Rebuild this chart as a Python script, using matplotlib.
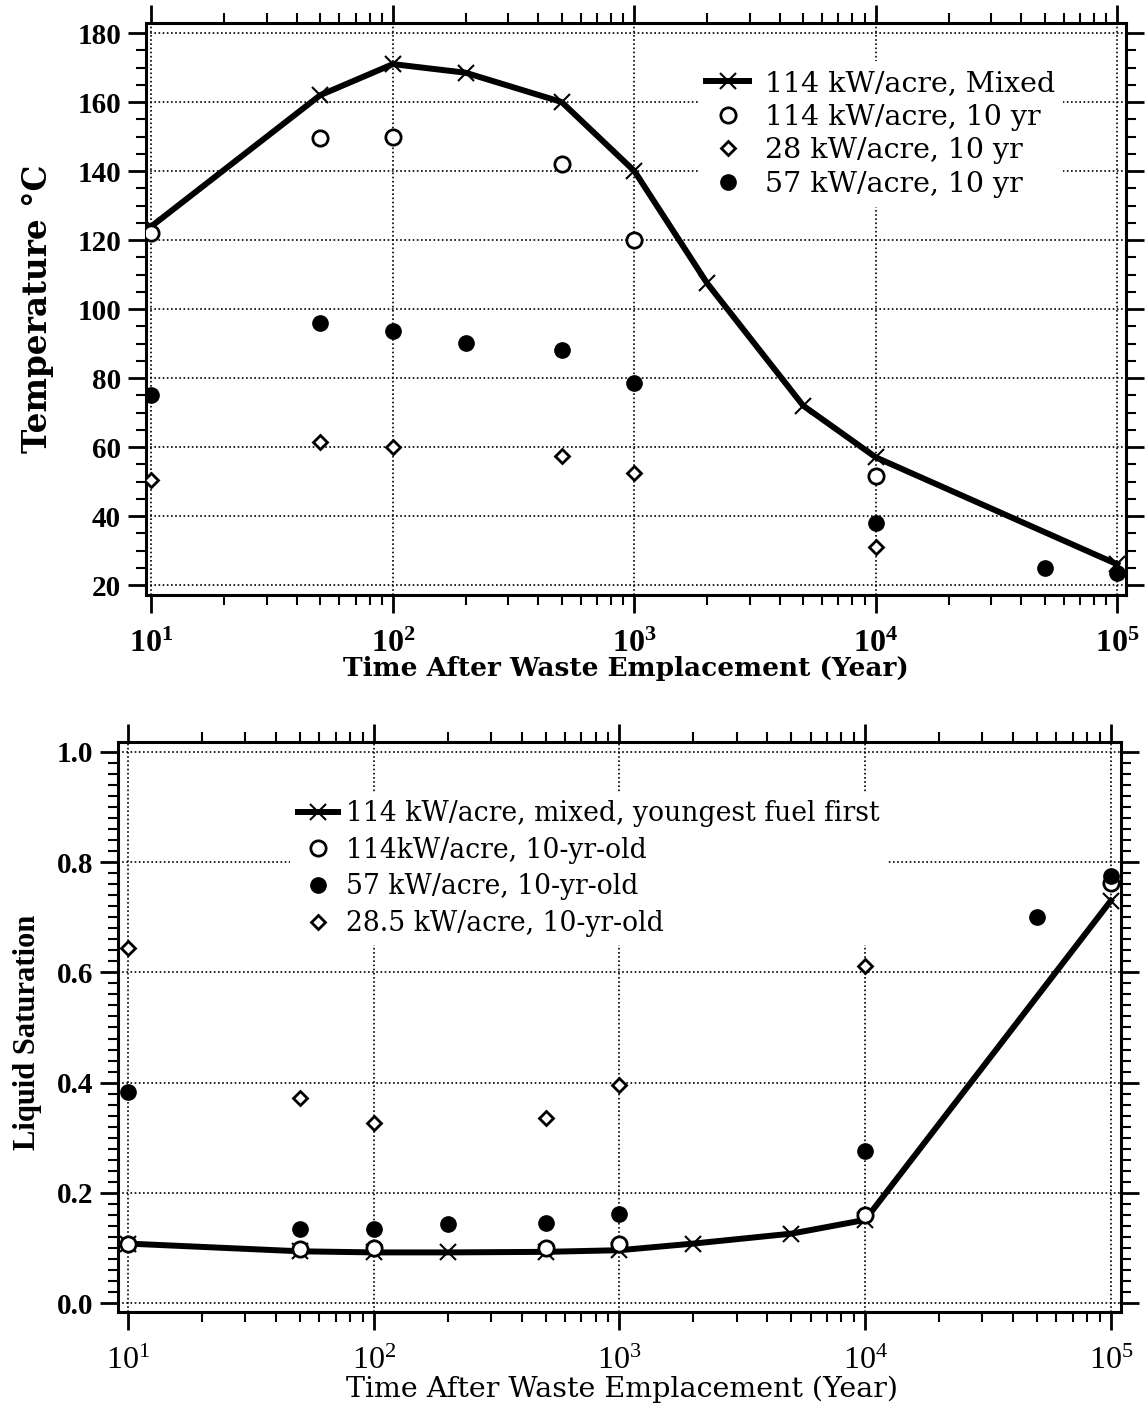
import matplotlib
matplotlib.use('Agg')
import matplotlib.pyplot as plt
from matplotlib.ticker import LogLocator, MultipleLocator, NullFormatter

plt.rcParams['font.family'] = 'Liberation Serif'
plt.rcParams['mathtext.fontset'] = 'custom'
plt.rcParams['mathtext.rm'] = 'Liberation Serif'
plt.rcParams['mathtext.bf'] = 'Liberation Serif:bold'

# ---- top panel: temperature ----
t_mix = [10, 50, 100, 200, 500, 1000, 2000, 5000, 1e4, 1e5]
temp_mix = [124, 162, 171, 168.5, 160, 140, 107.5, 72, 57, 26]
t_10yr = [10, 50, 100, 500, 1000, 1e4]
temp_114 = [122, 149.5, 150, 142, 120, 51.5]
temp_28 = [50.5, 61.5, 60, 57.5, 52.5, 31]
t_57 = [10, 50, 100, 200, 500, 1000, 1e4, 5e4, 1e5]
temp_57 = [75, 96, 93.5, 90.3, 88, 78.5, 38, 25, 23.5]
top_labels = ['114 kW/acre, Mixed', '114 kW/acre, 10 yr',
              '28 kW/acre, 10 yr', '57 kW/acre, 10 yr']
temp_ticks = [20, 40, 60, 80, 100, 120, 140, 160, 180]

# ---- bottom panel: liquid saturation ----
s_mix_t = [10, 50, 100, 200, 500, 1000, 2000, 5000, 1e4, 1e5]
sat_mix = [0.108, 0.094, 0.092, 0.092, 0.093, 0.096, 0.108, 0.126, 0.151, 0.73]
s_114_t = [10, 50, 100, 500, 1000, 1e4, 1e5]
sat_114 = [0.108, 0.099, 0.1, 0.1, 0.107, 0.16, 0.763]
s_57_t = [10, 50, 100, 200, 500, 1000, 1e4, 5e4, 1e5]
sat_57 = [0.383, 0.135, 0.135, 0.144, 0.145, 0.162, 0.276, 0.70, 0.775]
s_28_t = [10, 50, 100, 500, 1000, 1e4]
sat_28 = [0.645, 0.373, 0.327, 0.336, 0.395, 0.611]
bottom_labels = ['114 kW/acre, mixed, youngest fuel first', '114kW/acre, 10-yr-old',
                 '57 kW/acre, 10-yr-old', '28.5 kW/acre, 10-yr-old']
sat_ticks = [0.0, 0.2, 0.4, 0.6, 0.8, 1.0]

decades = [10, 100, 1e3, 1e4, 1e5]
xlabel = 'Time After Waste Emplacement (Year)'

fig = plt.figure(figsize=(11.46, 14.06), dpi=100)
ax1 = fig.add_axes([0.1274, 0.5768, 0.8551, 0.4068])
ax2 = fig.add_axes([0.103, 0.0669, 0.8752, 0.4054])


def style_axes(ax, xbold):
    ax.set_xscale('log')
    ax.set_xticks(decades)
    if xbold:
        ax.set_xticklabels([r'$\mathbf{10^{%d}}$' % i for i in range(1, 6)])
    else:
        ax.set_xticklabels([r'$\mathrm{10^{%d}}$' % i for i in range(1, 6)])
    ax.xaxis.set_minor_locator(LogLocator(base=10, subs=range(2, 10)))
    ax.xaxis.set_minor_formatter(NullFormatter())
    ax.tick_params(which='major', direction='out', length=13, width=2,
                   top=True, right=True, labelsize=21)
    ax.tick_params(which='minor', direction='out', length=7, width=1.5,
                   top=True, right=True)
    ax.tick_params(axis='x', which='major', pad=12, labelsize=23)
    ax.tick_params(axis='y', which='major', pad=5)
    for lab in ax.get_yticklabels():
        lab.set_fontweight('bold')
    for s in ax.spines.values():
        s.set_linewidth(2.2)
    ax.grid(True, which='major', color='black', linestyle=(0, (1, 1.5)), lw=1.2)


# top
ax1.plot(t_mix, temp_mix, '-', color='black', lw=4.3, marker='x', ms=12, mew=1.5,
         label=top_labels[0], zorder=3)
ax1.plot(t_10yr, temp_114, 'o', ms=11, mfc='white', mec='black', mew=2,
         label=top_labels[1], zorder=4)
ax1.plot(t_10yr, temp_28, 'D', ms=7, mfc='white', mec='black', mew=2,
         label=top_labels[2], zorder=4)
ax1.plot(t_57, temp_57, 'o', ms=11, color='black', label=top_labels[3], zorder=4)
ax1.set_xlim(9.49, 1.086e5)
ax1.set_ylim(17.1, 182.9)
ax1.set_yticks(temp_ticks)
ax1.yaxis.set_minor_locator(MultipleLocator(5))
style_axes(ax1, True)
ax1.set_xlabel(xlabel, fontsize=19, fontweight='bold', family='DejaVu Serif')
ax1.xaxis.set_label_coords(0.49, -0.107)
ax1.set_ylabel('Temperature °C', fontsize=23.5, fontweight='bold', family='DejaVu Serif')
ax1.yaxis.set_label_coords(-0.094, 0.5)
leg1 = ax1.legend(loc='upper left', bbox_to_anchor=(0.563, 0.933),
                  prop={'family': 'DejaVu Serif', 'size': 20.5},
                  frameon=True, facecolor='white', edgecolor='none', framealpha=1,
                  handlelength=1.5, handletextpad=0.55, labelspacing=0.235,
                  borderpad=0.3, borderaxespad=0)

# bottom
ax2.plot(s_mix_t, sat_mix, '-', color='black', lw=4.3, marker='x', ms=12, mew=1.5,
         label=bottom_labels[0], zorder=3)
ax2.plot(s_114_t, sat_114, 'o', ms=11, mfc='white', mec='black', mew=2,
         label=bottom_labels[1], zorder=4)
ax2.plot(s_57_t, sat_57, 'o', ms=11, color='black', label=bottom_labels[2], zorder=4)
ax2.plot(s_28_t, sat_28, 'D', ms=7, mfc='white', mec='black', mew=2,
         label=bottom_labels[3], zorder=4)
ax2.set_xlim(9.1, 1.1e5)
ax2.set_ylim(-0.016, 1.018)
ax2.set_yticks(sat_ticks)
ax2.set_yticklabels(['%.1f' % v for v in sat_ticks])
ax2.yaxis.set_minor_locator(MultipleLocator(0.02))
style_axes(ax2, False)
ax2.set_xlabel(xlabel, fontsize=20.5, family='DejaVu Serif')
ax2.xaxis.set_label_coords(0.502, -0.111)
ax2.set_ylabel('Liquid Saturation', fontsize=22, fontweight='bold')
ax2.yaxis.set_label_coords(-0.076, 0.49)
leg2 = ax2.legend(loc='upper left', bbox_to_anchor=(0.171, 0.912),
                  prop={'family': 'DejaVu Serif', 'size': 19.2},
                  frameon=True, facecolor='white', edgecolor='none', framealpha=1,
                  handlelength=1.5, handletextpad=0.3, labelspacing=0.36,
                  borderpad=0.3, borderaxespad=0)

fig.savefig('out.png', dpi=100)
